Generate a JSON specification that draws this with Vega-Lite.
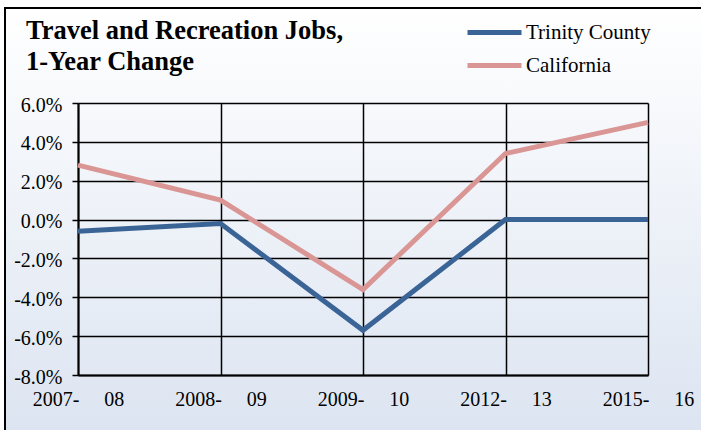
{
  "$schema": "https://vega.github.io/schema/vega-lite/v6.json",
  "width": 700,
  "height": 462,
  "autosize": {"type": "none"},
  "padding": {"left": 5, "top": 8, "right": 0, "bottom": 0},
  "background": "white",
  "title": {
    "text": ["Travel and Recreation Jobs,", "1-Year Change"],
    "anchor": "start",
    "frame": "group",
    "font": "'Liberation Serif', 'Times New Roman', Times, serif",
    "fontSize": 26.5,
    "fontWeight": "bold",
    "color": "black",
    "lineHeight": 31,
    "baseline": "top",
    "offset": 0,
    "dx": 21,
    "dy": 67
  },
  "config": {
    "font": "'Liberation Serif', 'Times New Roman', Times, serif",
    "view": {
      "stroke": "black",
      "strokeWidth": 2,
      "fill": {
        "gradient": "linear",
        "x1": 0, "y1": 0, "x2": 0, "y2": 1,
        "stops": [
          {"offset": 0, "color": "#ffffff"},
          {"offset": 1, "color": "#d9e2f0"}
        ]
      }
    }
  },
  "data": {
    "values": [
      {"period": "2007-\u00a0\u00a0\u00a0\u00a0\u00a008", "series": "Trinity County", "change": -0.006},
      {"period": "2008-\u00a0\u00a0\u00a0\u00a0\u00a009", "series": "Trinity County", "change": -0.002},
      {"period": "2009-\u00a0\u00a0\u00a0\u00a0\u00a010", "series": "Trinity County", "change": -0.057},
      {"period": "2012-\u00a0\u00a0\u00a0\u00a0\u00a013", "series": "Trinity County", "change": 0.0},
      {"period": "2015-\u00a0\u00a0\u00a0\u00a0\u00a016", "series": "Trinity County", "change": 0.0},
      {"period": "2007-\u00a0\u00a0\u00a0\u00a0\u00a008", "series": "California", "change": 0.028},
      {"period": "2008-\u00a0\u00a0\u00a0\u00a0\u00a009", "series": "California", "change": 0.010},
      {"period": "2009-\u00a0\u00a0\u00a0\u00a0\u00a010", "series": "California", "change": -0.036},
      {"period": "2012-\u00a0\u00a0\u00a0\u00a0\u00a013", "series": "California", "change": 0.034},
      {"period": "2015-\u00a0\u00a0\u00a0\u00a0\u00a016", "series": "California", "change": 0.050}
    ]
  },
  "mark": {"type": "line", "strokeWidth": 5},
  "encoding": {
    "x": {
      "field": "period",
      "type": "ordinal",
      "sort": null,
      "scale": {"type": "point", "padding": 0, "range": [73, 643]},
      "axis": {
        "title": null,
        "orient": "bottom",
        "offset": -95,
        "labelAngle": 0,
        "labelFont": "'Liberation Serif', 'Times New Roman', Times, serif",
        "labelFontSize": 20,
        "labelColor": "black",
        "labelBaseline": "alphabetic",
        "labelPadding": 30,
        "ticks": false,
        "domainColor": "black",
        "domainWidth": 2,
        "grid": true,
        "gridColor": "black",
        "gridWidth": 1.5,
        "gridOpacity": 1
      }
    },
    "y": {
      "field": "change",
      "type": "quantitative",
      "scale": {"domain": [-0.08, 0.06], "range": [367, 95], "nice": false, "zero": false},
      "axis": {
        "title": null,
        "orient": "left",
        "offset": -73,
        "values": [-0.08, -0.06, -0.04, -0.02, 0, 0.02, 0.04, 0.06],
        "labelExpr": "replace(format(datum.value, '.1%'), '\u2212', '-')",
        "labelFont": "'Liberation Serif', 'Times New Roman', Times, serif",
        "labelFontSize": 20,
        "labelColor": "black",
        "labelPadding": 10,
        "labelOffset": 2,
        "tickSize": 6,
        "tickColor": "black",
        "tickWidth": 1.5,
        "domainColor": "black",
        "domainWidth": 2,
        "grid": true,
        "gridColor": "black",
        "gridWidth": 1.5,
        "gridOpacity": 1
      }
    },
    "color": {
      "field": "series",
      "type": "nominal",
      "scale": {"domain": ["Trinity County", "California"], "range": ["#3b6496", "#da9694"]},
      "legend": {
        "title": null,
        "orient": "none",
        "legendX": 478,
        "legendY": 13,
        "padding": 0,
        "symbolType": "M-3,0H3",
        "symbolSize": 324,
        "symbolStrokeWidth": 5,
        "symbolStrokeCap": "round",
        "labelFont": "'Liberation Serif', 'Times New Roman', Times, serif",
        "labelFontSize": 21,
        "labelColor": "black",
        "labelOffset": 20,
        "rowPadding": 11
      }
    }
  }
}
